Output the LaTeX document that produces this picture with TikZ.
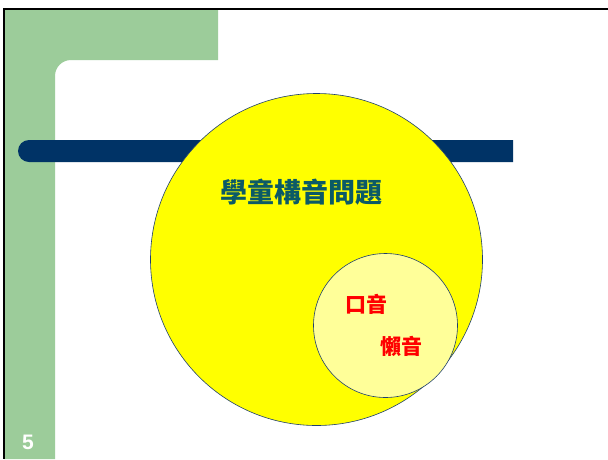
\documentclass[tikz,border=0pt]{standalone}
\usepackage{fontspec}
\setmainfont{Liberation Sans}
\newfontfamily\cjk{Noto Sans CJK TC}
\definecolor{slidegreen}{HTML}{9CCC9A}
\definecolor{navybar}{HTML}{003366}
\definecolor{titleteal}{HTML}{0B5A66}
\definecolor{brightyellow}{HTML}{FFFF00}
\definecolor{lightyellow}{HTML}{FFFF99}
\definecolor{circline}{HTML}{1F3F6F}
\definecolor{brightred}{HTML}{FF0000}
\tikzset{
  circlestyle/.style={draw=circline, line width=0.6pt},
  cjktext/.style={inner sep=0pt, font=\cjk\bfseries},
}
\begin{document}
\begin{tikzpicture}[x=1pt,y=-1pt]
\useasboundingbox (0,0) rectangle (608,459);
\fill[white] (0,0) rectangle (608,459);
% green L-shape with rounded inner corner
\fill[slidegreen] (4,9) -- (218,9) -- (218,60) -- (71,60) arc[start angle=90,end angle=180,x radius=16,y radius=-16] -- (55,459) -- (4,459) -- cycle;
% frame lines
\draw[black, line width=1.6pt] (608,9) -- (4,9) -- (4,459);
% navy bar
\fill[navybar] (513,140) -- (29,140) arc[start angle=90,end angle=270,x radius=11,y radius=-11] -- (513,162) -- cycle;
% circles
\node[circle, circlestyle, fill=brightyellow, minimum size=332pt, inner sep=0pt] (big) at (316.5,259.5) {};
\node[circle, circlestyle, fill=lightyellow, minimum size=144pt, inner sep=0pt] (small) at (385.5,325.5) {};
% texts
\node[cjktext, text=titleteal, font=\cjk\bfseries\fontsize{27}{30}\selectfont] (title) at (301,192) {學童構音問題};
\node[cjktext, text=brightred, font=\cjk\bfseries\fontsize{21}{24}\selectfont] (kou) at (366,304) {口音};
\node[cjktext, text=brightred, font=\cjk\bfseries\fontsize{21}{24}\selectfont] (lan) at (401,346) {懶音};
\node[text=white, font=\bfseries\fontsize{21}{24}\selectfont, inner sep=0pt] (num) at (28,442) {5};
\end{tikzpicture}
\end{document}
